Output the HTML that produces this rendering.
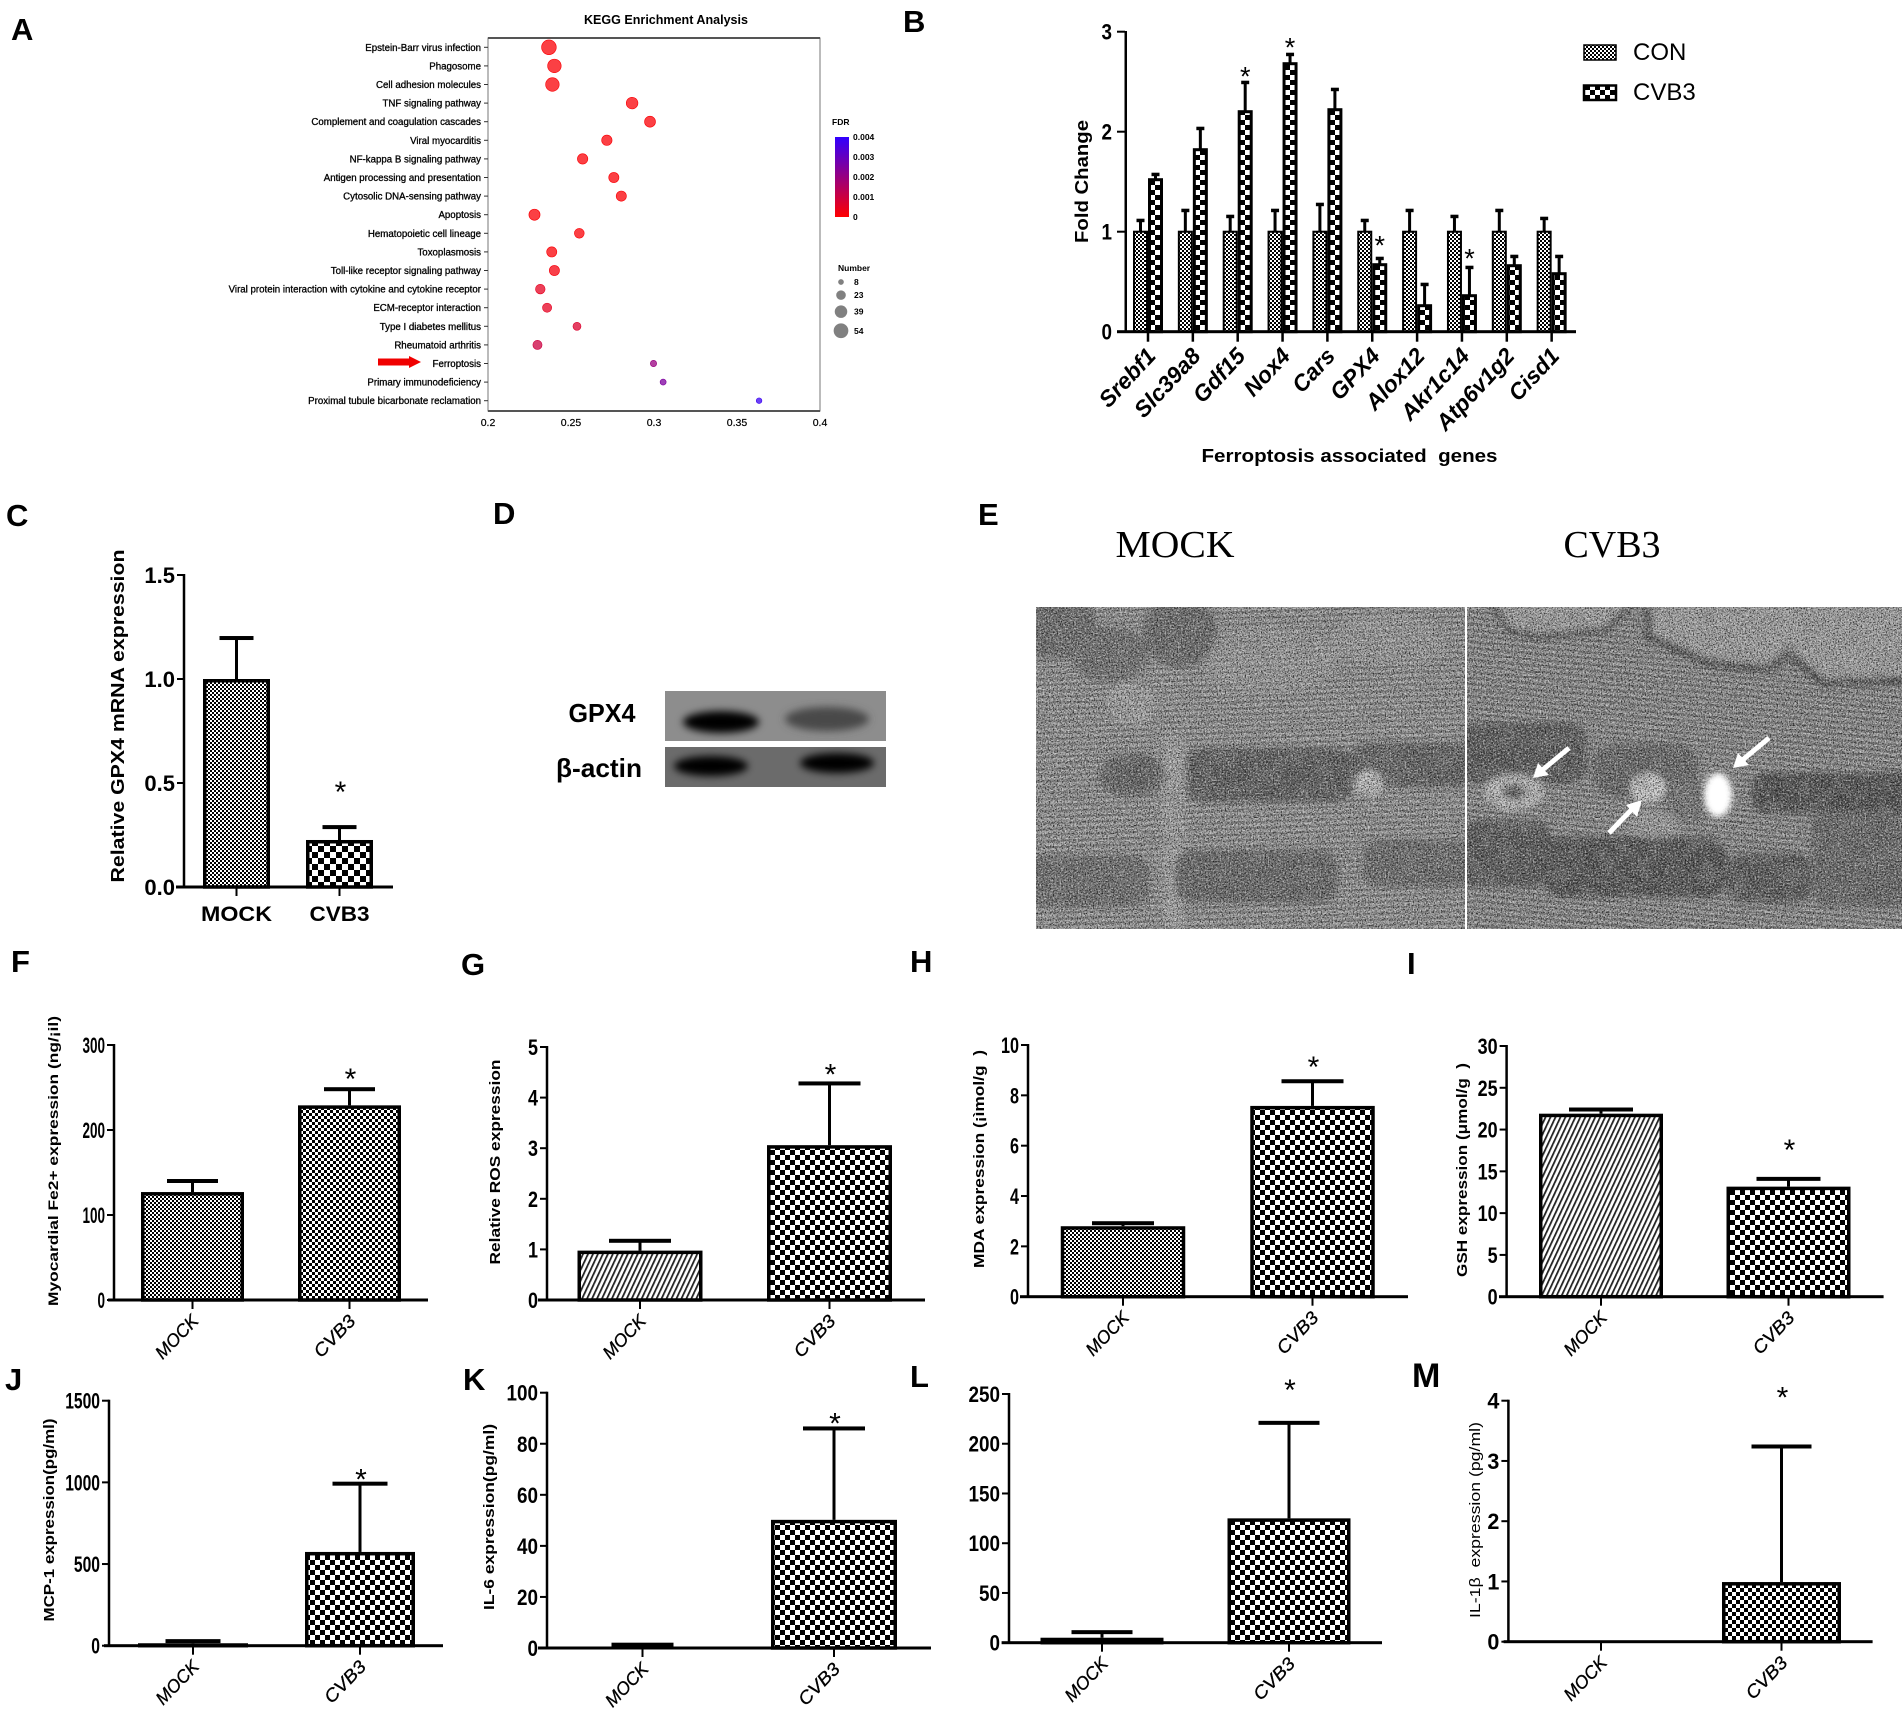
<!DOCTYPE html>
<html lang="en">
<head>
<meta charset="utf-8">
<title>Ferroptosis figure panels A to M</title>
<style>
html,body{margin:0;padding:0;background:#fff;}
svg{display:block;}
text{font-family:"Liberation Sans","DejaVu Sans",sans-serif;fill:#000;white-space:pre;}
.letter{font-size:31px;font-weight:700;}
</style>
</head>
<body>
<svg id="figure" xmlns="http://www.w3.org/2000/svg" width="1902" height="1720" viewBox="0 0 1902 1720">
<defs>
<pattern id="chk2" width="4" height="4" patternUnits="userSpaceOnUse"><rect width="4" height="4" fill="#fff"/><rect width="2" height="2"/><rect x="2" y="2" width="2" height="2"/></pattern>
<pattern id="chk3" width="6" height="6" patternUnits="userSpaceOnUse"><rect width="6" height="6" fill="#fff"/><rect width="3" height="3"/><rect x="3" y="3" width="3" height="3"/></pattern>
<pattern id="chk4" width="8" height="8" patternUnits="userSpaceOnUse"><rect width="8" height="8" fill="#fff"/><rect width="4" height="4"/><rect x="4" y="4" width="4" height="4"/></pattern>
<pattern id="chk5" width="10" height="10" patternUnits="userSpaceOnUse"><rect width="10" height="10" fill="#fff"/><rect width="5" height="5"/><rect x="5" y="5" width="5" height="5"/></pattern>
<pattern id="chk6" width="12" height="12" patternUnits="userSpaceOnUse"><rect width="12" height="12" fill="#fff"/><rect width="6" height="6"/><rect x="6" y="6" width="6" height="6"/></pattern>
<pattern id="hatch" width="4.5" height="7" patternUnits="userSpaceOnUse" patternTransform="rotate(25)"><rect width="4.5" height="7" fill="#fff"/><rect width="1.8" height="7" fill="#222"/><rect x="1.8" y="2" width="0.8" height="1" fill="#fff"/></pattern>
<pattern id="striation" width="40" height="6" patternUnits="userSpaceOnUse" patternTransform="rotate(-2)"><rect width="40" height="6" fill="#a3a3a3"/><rect y="0" width="40" height="2.4" fill="#7d7d7d"/></pattern>
<pattern id="striation-right" width="40" height="6" patternUnits="userSpaceOnUse" patternTransform="rotate(5)"><rect width="40" height="6" fill="#9c9c9c"/><rect y="0" width="40" height="2.6" fill="#747474"/></pattern>
<linearGradient id="fdr-gradient" x1="0" y1="1" x2="0" y2="0"><stop offset="0" stop-color="#ff0000"/><stop offset="1" stop-color="#3000ff"/></linearGradient>
<filter id="soft" x="-20%" y="-20%" width="140%" height="140%"><feGaussianBlur stdDeviation="3"/></filter>
<filter id="band-blur" x="-30%" y="-60%" width="160%" height="220%"><feGaussianBlur stdDeviation="4"/></filter>
<filter id="speck-dark" x="0" y="0" width="100%" height="100%"><feTurbulence type="fractalNoise" baseFrequency="0.75" numOctaves="2" seed="4"/><feColorMatrix type="matrix" values="0 0 0 0 0  0 0 0 0 0  0 0 0 0 0  3.4 0 0 0 -1.55"/></filter>
<filter id="speck-light" x="0" y="0" width="100%" height="100%"><feTurbulence type="fractalNoise" baseFrequency="0.6" numOctaves="2" seed="11"/><feColorMatrix type="matrix" values="0 0 0 0 1  0 0 0 0 1  0 0 0 0 1  3.2 0 0 0 -1.5"/></filter>
<filter id="mottle" x="0" y="0" width="100%" height="100%"><feTurbulence type="fractalNoise" baseFrequency="0.06" numOctaves="3" seed="7"/><feColorMatrix type="matrix" values="0 0 0 0 0.25  0 0 0 0 0.25  0 0 0 0 0.25  2.6 0 0 0 -1.0"/></filter>
</defs>

<g id="panel-a"></g>
<g id="panel-b"></g>
<g id="panel-bars"></g>

<g>
<text class="letter" x="11" y="40">A</text>
<text class="letter" x="903" y="32">B</text>
<text class="letter" x="6" y="526">C</text>
<text class="letter" x="493" y="524">D</text>
<text class="letter" x="978" y="525">E</text>
<text class="letter" x="11" y="972">F</text>
<text class="letter" x="461" y="975">G</text>
<text class="letter" x="910" y="972">H</text>
<text class="letter" x="1407" y="974">I</text>
<text class="letter" x="5" y="1390">J</text>
<text class="letter" x="463" y="1390">K</text>
<text class="letter" x="910" y="1387">L</text>
<text class="letter" x="1412" y="1387" style="font-size:34px">M</text>
</g>

<g>
<text x="602" y="722" text-anchor="middle" font-size="26" font-weight="700" textLength="67" lengthAdjust="spacingAndGlyphs">GPX4</text>
<text x="599" y="777" text-anchor="middle" font-size="26" font-weight="700" textLength="86" lengthAdjust="spacingAndGlyphs">β-actin</text>
<svg x="665" y="691" width="221" height="50">
<rect width="221" height="50" fill="#8d8d8d"/>
<ellipse cx="56" cy="31" rx="38" ry="11" fill="#050505" filter="url(#band-blur)"/>
<ellipse cx="162" cy="28" rx="42" ry="12" fill="#484848" filter="url(#band-blur)"/>
</svg>
<svg x="665" y="747" width="221" height="40">
<rect width="221" height="40" fill="#6b6b6b"/>
<ellipse cx="46" cy="19" rx="37" ry="10" fill="#000" filter="url(#band-blur)"/>
<ellipse cx="172" cy="16" rx="37" ry="10" fill="#000" filter="url(#band-blur)"/>
</svg>
</g>

<g>
<text x="1175" y="557" text-anchor="middle" font-size="38" textLength="119" lengthAdjust="spacingAndGlyphs" style="font-family:'Liberation Serif',serif">MOCK</text>
<text x="1612" y="557" text-anchor="middle" font-size="38" textLength="97" lengthAdjust="spacingAndGlyphs" style="font-family:'Liberation Serif',serif">CVB3</text>

<svg x="1036" y="607" width="429" height="322" viewBox="1036 607 429 322">
<rect x="1036" y="607" width="429" height="322" fill="url(#striation)"/>
<g filter="url(#soft)" fill="#6d6d6d">
<ellipse cx="1132" cy="703" rx="26" ry="22" fill="#b4b4b4" opacity=".6"/>
<rect x="1162" y="735" width="22" height="194" fill="#b3b3b3" opacity=".6"/>
<ellipse cx="1390" cy="640" rx="60" ry="26" fill="#a9a9a9" opacity=".5"/>
<ellipse cx="1270" cy="660" rx="70" ry="34" fill="#aaa" opacity=".5"/>
<rect x="1026" y="600" width="70" height="58" rx="22"/>
<ellipse cx="1110" cy="655" rx="38" ry="28" fill="#727272"/>
<ellipse cx="1180" cy="632" rx="37" ry="36"/>
<ellipse cx="1132" cy="775" rx="33" ry="22" fill="#666"/>
<rect x="1187" y="748" width="164" height="54" rx="14" fill="#5e5e5e"/>
<rect x="1351" y="743" width="125" height="44" rx="14" fill="#646464"/>
<ellipse cx="1369" cy="783" rx="14" ry="13" fill="#c4c4c4"/>
<rect x="1026" y="855" width="124" height="52" rx="18" fill="#707070"/>
<rect x="1175" y="850" width="163" height="53" rx="18" fill="#6a6a6a"/>
<rect x="1363" y="840" width="112" height="47" rx="16" fill="#6e6e6e"/>
</g>
<rect x="1036" y="607" width="429" height="322" filter="url(#mottle)" opacity=".45"/>
<rect x="1036" y="607" width="429" height="322" filter="url(#speck-dark)" opacity=".75"/>
<rect x="1036" y="607" width="429" height="322" filter="url(#speck-light)" opacity=".55"/>
</svg>

<svg x="1467" y="607" width="435" height="322" viewBox="1467 607 435 322">
<rect x="1467" y="607" width="435" height="322" fill="url(#striation-right)"/>
<g filter="url(#soft)">
<polygon points="1648,600 1648,637 1709,663 1769,670 1788,653 1824,683 1910,680 1910,600" fill="#a6a6a6" stroke="#505050" stroke-width="8"/>
<polygon points="1490,600 1508,630 1539,637 1606,630 1636,600" fill="#a5a5a5" stroke="#505050" stroke-width="6"/>
<rect x="1460" y="723" width="127" height="60" rx="18" fill="#5a5a5a"/>
<rect x="1593" y="743" width="104" height="54" rx="22" fill="#686868"/>
<rect x="1751" y="773" width="160" height="40" rx="14" fill="#505050"/>
<rect x="1460" y="820" width="91" height="67" rx="18" fill="#5a5a5a"/>
<rect x="1542" y="837" width="185" height="60" rx="22" fill="#525252"/>
<rect x="1727" y="853" width="85" height="50" rx="18" fill="#5a5a5a"/>
<rect x="1812" y="810" width="100" height="97" rx="18" fill="#6a6a6a"/>
<rect x="1666" y="780" width="37" height="43" rx="12" fill="#757575"/>
<ellipse cx="1514" cy="792" rx="30" ry="18" fill="#c4c4c4"/>
<ellipse cx="1514" cy="792" rx="12" ry="8" fill="#666"/>
<ellipse cx="1648" cy="788" rx="18" ry="15" fill="#cfcfcf"/>
<ellipse cx="1655" cy="825" rx="26" ry="14" fill="#aaa" opacity=".7"/>
</g>
<rect x="1467" y="607" width="435" height="322" filter="url(#mottle)" opacity=".45"/>
<rect x="1467" y="607" width="435" height="322" filter="url(#speck-dark)" opacity=".75"/>
<rect x="1467" y="607" width="435" height="322" filter="url(#speck-light)" opacity=".55"/>
<ellipse cx="1718" cy="795" rx="14" ry="22" fill="#fff" filter="url(#soft)"/>
<g stroke="#fff" stroke-width="5" fill="#fff">
<line x1="1569" y1="748" x2="1540" y2="772"/>
<polygon points="1533,778 1538,763 1549,775" stroke="none"/>
<line x1="1609" y1="833" x2="1635" y2="806"/>
<polygon points="1642,800 1626,805 1637,817" stroke="none"/>
<line x1="1769" y1="738" x2="1740" y2="762"/>
<polygon points="1733,768 1738,753 1749,765" stroke="none"/>
</g>
</svg>
</g>

<script>
// ---------- Panel A data ----------
const keggPathways = ["Epstein-Barr virus infection","Phagosome","Cell adhesion molecules","TNF signaling pathway","Complement and coagulation cascades","Viral myocarditis","NF-kappa B signaling pathway","Antigen processing and presentation","Cytosolic DNA-sensing pathway","Apoptosis","Hematopoietic cell lineage","Toxoplasmosis","Toll-like receptor signaling pathway","Viral protein interaction with cytokine and cytokine receptor","ECM-receptor interaction","Type I diabetes mellitus","Rheumatoid arthritis","Ferroptosis","Primary immunodeficiency","Proximal tubule bicarbonate reclamation"];
const keggRichFactor = [0.2367,0.24,0.2388,0.2868,0.2976,0.2716,0.257,0.2758,0.2803,0.228,0.255,0.2384,0.24,0.2315,0.2356,0.2536,0.2298,0.2997,0.3055,0.3633];
const keggGeneNumber = [54,46,46,34,30,27,27,26,26,31,24,26,26,23,21,16,21,10,9,8];
const keggFdr = [0.0001,0.0001,0.0001,0.0001,0.0001,0.0001,0.0001,0.0001,0.0001,0.0001,0.0001,0.0001,0.0002,0.0005,0.0005,0.0007,0.001,0.002,0.0025,0.0038];
const keggXTicks = ["0.2","0.25","0.3","0.35","0.4"];
const fdrLegendTicks = ["0","0.001","0.002","0.003","0.004"];
const numberLegendValues = [8,23,39,54];

// ---------- Panel B data ----------
const geneNames = ["Srebf1","Slc39a8","Gdf15","Nox4","Cars","GPX4","Alox12","Akr1c14","Atp6v1g2","Cisd1"];
const conMeans = [1,1,1,1,1,1,1,1,1,1];
const conErrorTops = [1.12,1.22,1.16,1.22,1.28,1.12,1.22,1.16,1.22,1.14];
const cvb3Means = [1.52,1.82,2.2,2.68,2.22,0.67,0.26,0.36,0.66,0.58];
const cvb3ErrorTops = [1.58,2.04,2.5,2.78,2.43,0.74,0.48,0.65,0.76,0.76];
const geneStarLift = [null,null,0.12,0.13,null,0.19,null,0.15,null,null];
const geneYTicks = ["0","1","2","3"];

// ---------- Bar panel data ----------
const groupNames = ["MOCK","CVB3"];

const cMeans = [1,0.226];
const cErrorTops = [1.197,0.288];
const cYTicks = ["0.0","0.5","1.0","1.5"];

const fMeans = [127,229];
const fErrorTops = [140,248];
const fYTicks = ["0","100","200","300"];

const gMeans = [0.976,3.06];
const gErrorTops = [1.17,4.28];
const gYTicks = ["0","1","2","3","4","5"];

const hMeans = [2.8,7.58];
const hErrorTops = [2.92,8.56];
const hYTicks = ["0","2","4","6","8","10"];

const iMeans = [21.9,13.17];
const iErrorTops = [22.4,14.1];
const iYTicks = ["0","5","10","15","20","25","30"];

const jMeans = [15,574];
const jErrorTops = [28,992];
const jYTicks = ["0","500","1000","1500"];

const kMeans = [0.5,50.2];
const kErrorTops = [1.3,86];
const kYTicks = ["0","20","40","60","80","100"];

const lMeans = [5,125];
const lErrorTops = [10.6,221];
const lYTicks = ["0","50","100","150","200","250"];

const mMeans = [0,0.99];
const mErrorTops = [0,3.24];
const mYTicks = ["0","1","2","3","4"];

// ---------- Helpers ----------
const SVGNS = "http://www.w3.org/2000/svg";
function node(tag, parent) {
  const e = document.createElementNS(SVGNS, tag);
  parent.appendChild(e);
  return e;
}
function attrs(e, props) {
  for (const k in props) e.setAttribute(k, props[k]);
  return e;
}
function box(parent, x, y, w, h, fill) {
  return attrs(node("rect", parent), {x: x, y: y, width: w, height: h, fill: fill || "#000"});
}
function write(parent, str, x, y, size, style) {
  const t = node("text", parent);
  t.textContent = str;
  const s = style || {};
  t.setAttribute("font-size", size);
  if (s.weight) t.setAttribute("font-weight", s.weight);
  if (s.italic) t.setAttribute("font-style", "italic");
  t.setAttribute("text-anchor", s.anchor || "start");
  if (s.length) {
    t.setAttribute("textLength", s.length);
    t.setAttribute("lengthAdjust", "spacingAndGlyphs");
  }
  if (s.rotate !== undefined) {
    t.setAttribute("transform", "translate(" + x + " " + y + ") rotate(" + s.rotate + ")");
  } else {
    t.setAttribute("x", x);
    t.setAttribute("y", y);
  }
  return t;
}
function linear(d0, d1, r0, r1) {
  return function (v) { return r0 + (v - d0) / (d1 - d0) * (r1 - r0); };
}
function fdrColor(v) {
  const t = v / 0.004;
  return "rgb(" + Math.round(255 - 207 * t) + ",0," + Math.round(255 * t) + ")";
}

// ---------- Panel A ----------
(function drawKegg() {
  const root = document.getElementById("panel-a");
  const xScale = linear(0.2, 0.4, 488, 820);
  const yRow = function (i) { return 47.3 + i * (400.7 - 47.3) / (keggPathways.length - 1); };
  const radius = function (n) { return Math.sqrt(n) * 1.0; };

  const title = write(root, "KEGG Enrichment Analysis", 666, 24, 12.5, {weight: 700, anchor: "middle", length: 164});
  
  

  const frame = box(root, 488, 38, 332, 373, "none");
  frame.setAttribute("stroke", "#777");
  frame.setAttribute("stroke-width", "1");
  
  

  const topEdge = box(root, 488, 37, 332, 2, "#555");
  
  
  const bottomEdge = box(root, 488, 410, 332, 2, "#555");
  
  

  keggPathways.forEach(function (name, i) {
    const y = yRow(i);
    const lab = write(root, name, 481, y + 3.5, 9.7, {anchor: "end", weight: 400});
    lab.setAttribute("stroke", "#000");
    lab.setAttribute("stroke-width", "0.3");
    
    

    const tick = box(root, 484, y - 0.5, 4, 1, "#333");
    
    

    const dot = node("circle", root);
    dot.setAttribute("cx", xScale(keggRichFactor[i]));
    dot.setAttribute("cy", y);
    dot.setAttribute("r", radius(keggGeneNumber[i]));
    dot.setAttribute("fill", fdrColor(keggFdr[i]));
    dot.setAttribute("fill-opacity", "0.75");
    dot.setAttribute("stroke", fdrColor(keggFdr[i]));
    dot.setAttribute("stroke-width", "0.6");
    
    
  });

  keggXTicks.forEach(function (label) {
    const x = xScale(parseFloat(label));
    const lab = write(root, label, x, 426, 10.5, {anchor: "middle"});
    lab.setAttribute("stroke", "#000");
    lab.setAttribute("stroke-width", "0.2");
    
    
  });

  const arrow = node("polygon", root);
  arrow.setAttribute("points", "378,358.5 409,358.5 409,356 421,362 409,368 409,365.5 378,365.5");
  arrow.setAttribute("fill", "#f00000");
  
  

  const fdrTitle = write(root, "FDR", 832, 125, 8.5, {weight: 700, anchor: "start"});
  
  

  const bar = box(root, 835, 137, 14, 80, "url(#fdr-gradient)");
  
  

  const fdrY = linear(0, 0.004, 217, 137);
  fdrLegendTicks.forEach(function (label) {
    const t = write(root, label, 853, fdrY(parseFloat(label)) + 3, 8.5, {weight: 700});
    
    
  });

  const numTitle = write(root, "Number", 838, 271, 8.5, {weight: 700});
  
  

  let legendY = 282;
  numberLegendValues.forEach(function (n, i) {
    const r = radius(n);
    if (i > 0) legendY += radius(numberLegendValues[i - 1]) + r + 5.5;
    const c = node("circle", root);
    c.setAttribute("cx", 841);
    c.setAttribute("cy", legendY);
    c.setAttribute("r", r);
    c.setAttribute("fill", "#808080");
    
    
    const t = write(root, String(n), 854, legendY + 3, 8.5, {weight: 700});
    
    
  });
})();

// ---------- Panel B ----------
(function drawGenes() {
  const root = document.getElementById("panel-b");
  const yScale = linear(0, 3, 331.7, 31.7);
  const center = function (i) { return 1148 + i * 44.85; };
  const barW = 15;

  geneNames.forEach(function (gene, i) {
    const c = center(i);
    [[conMeans, conErrorTops, "url(#chk2)", -barW, 2], [cvb3Means, cvb3ErrorTops, "url(#chk5)", 0, 3]].forEach(function (s) {
      const xLeft = c + s[3];
      const top = yScale(s[0][i]);
      const errTop = yScale(s[1][i]);
      const stem = box(root, xLeft + barW / 2 - 1.5, errTop, 3, top - errTop);
      
      
      const cap = box(root, xLeft + barW / 2 - 4, errTop - 1, 8, 3.5);
      
      
      const rect = box(root, xLeft + s[4] / 2, top, barW - s[4], yScale(0) - top, s[2]);
      rect.setAttribute("stroke", "#000");
      rect.setAttribute("stroke-width", s[4]);
      
      
    });

    const tick = box(root, c - 1.25, 331.7, 2.5, 10);
    
    

    const lab = write(root, gene, c + 9, 357, 22.8, {weight: 700, italic: true, anchor: "end", rotate: -47});
    
    

    if (geneStarLift[i] !== null) {
      const star = write(root, "*", c + barW / 2, yScale(cvb3ErrorTops[i] + geneStarLift[i]) + 16, 27, {anchor: "middle"});
      
      
    }
  });

  const yAxis = box(root, 1124.5, 31, 2.5, 302);
  
  
  const xAxis = box(root, 1117, 330.2, 459, 3);
  
  

  geneYTicks.forEach(function (label) {
    const y = yScale(parseFloat(label));
    const tick = box(root, 1117, y - 1, 8, 2);
    
    
    const t = write(root, label, 1112, y + 8, 22, {weight: 700, anchor: "end", length: 10.5});
    
    
  });

  const yTitle = write(root, "Fold Change", 1088, 181.5, 18, {weight: 700, anchor: "middle", rotate: -90, length: 123});
  
  

  const xTitle = write(root, "Ferroptosis associated  genes", 1349.5, 462, 18, {weight: 700, anchor: "middle", length: 296});
  
  

  const conSwatch = box(root, 1584, 45, 32, 15, "url(#chk2)");
  conSwatch.setAttribute("stroke", "#000");
  conSwatch.setAttribute("stroke-width", "1.5");
  
  
  const conText = write(root, "CON", 1633, 60, 24, {});
  
  

  const cvbSwatch = box(root, 1584, 85.5, 32, 14.5, "url(#chk5)");
  cvbSwatch.setAttribute("stroke", "#000");
  cvbSwatch.setAttribute("stroke-width", "2.5");
  
  
  const cvbText = write(root, "CVB3", 1633, 100, 24, {});
  
  
})();

// ---------- Panels C, F-M ----------
function drawBarPanel(panel, cfg) {
  const root = node("g", document.getElementById("panel-bars"));
  
  

  const yScale = linear(0, cfg.yMax, cfg.yBase, cfg.yTop);
  const center = function (i) { return cfg.firstCenter + i * cfg.step; };

  groupNames.forEach(function (group, i) {
    const c = center(i);
    const top = yScale(cfg.means[i]);
    const errTop = yScale(cfg.errorTops[i]);

    if (cfg.errorTops[i] > cfg.means[i]) {
      const stem = box(root, c - 1.5, errTop, 3, top - errTop);
      
      
      const cap = box(root, c - cfg.capW / 2, errTop - 2, cfg.capW, 4);
      
      
    }

    const rect = box(root, c - cfg.barW / 2 + 1.75, top + 1.75, cfg.barW - 3.5, Math.max(cfg.yBase - top - 1.75, 0), cfg.fills[i]);
    rect.setAttribute("stroke", "#000");
    rect.setAttribute("stroke-width", "3.5");
    
    

    const tick = box(root, c - 1, cfg.yBase, 2, 9);
    
    

    let lab;
    if (cfg.flatLabels) {
      lab = write(root, group, c, cfg.yBase + 34, 21, {weight: 700, anchor: "middle", length: group === "MOCK" ? 71 : 60});
    } else {
      lab = write(root, group, c + 7, cfg.yBase + 22, 18, {italic: true, anchor: "end", rotate: -46, length: group === "MOCK" ? 53 : 51});
      lab.setAttribute("stroke", "#000");
      lab.setAttribute("stroke-width", "0.3");
    }
    
    
  });

  const star = write(root, "*", cfg.firstCenter + cfg.step * cfg.starIndex + 1, yScale(cfg.errorTops[cfg.starIndex]) - cfg.starGap + 17, 30, {anchor: "middle"});
  
  

  const yAxis = box(root, cfg.axisX - 1.25, cfg.yTop - 1, 2.5, cfg.yBase - cfg.yTop + 2);
  
  
  const xAxis = box(root, cfg.xStart, cfg.yBase - 1.5, cfg.xEnd - cfg.xStart, 3);
  
  

  cfg.yTicks.forEach(function (label) {
    const y = yScale(parseFloat(label));
    const tick = box(root, cfg.axisX - 7, y - 1, 7, 2);
    
    
    const style = {weight: 700, anchor: "end"};
    if (cfg.charW) style.length = label.length * cfg.charW;
    const t = write(root, label, cfg.axisX - 9, y + 8, 22, style);
    
    
  });

  if (cfg.yTitle) {
    const title = write(root, cfg.yTitle, cfg.titleX, cfg.titleMid, cfg.titleSize, {weight: cfg.titleWeight || 700, anchor: "middle", rotate: -90, length: cfg.titleLen});
    
    
  }
}

drawBarPanel("c", {means: cMeans, errorTops: cErrorTops, yTicks: cYTicks, yMax: 1.5, yTop: 575, yBase: 887, axisX: 184, xStart: 176, xEnd: 393, firstCenter: 236.5, step: 103, barW: 67, capW: 34, fills: ["url(#chk2)", "url(#chk6)"], starIndex: 1, starGap: 42, flatLabels: true, yTitle: "Relative GPX4 mRNA expression", titleX: 124, titleMid: 716, titleSize: 18, titleLen: 333});
drawBarPanel("f", {means: fMeans, errorTops: fErrorTops, yTicks: fYTicks, yMax: 300, yTop: 1045, yBase: 1300, axisX: 114, xStart: 108, xEnd: 428, firstCenter: 192.5, step: 157, barW: 103, capW: 51, fills: ["url(#chk2)", "url(#chk3)"], starIndex: 1, starGap: 17, charW: 7.5, yTitle: "Myocardial Fe2+ expression (ng/¡il)", titleX: 58, titleMid: 1161, titleSize: 14, titleLen: 290});
drawBarPanel("g", {means: gMeans, errorTops: gErrorTops, yTicks: gYTicks, yMax: 5, yTop: 1047, yBase: 1300, axisX: 547, xStart: 538, xEnd: 925, firstCenter: 640, step: 189.5, barW: 125, capW: 62, fills: ["url(#hatch)", "url(#chk5)"], starIndex: 1, starGap: 16, charW: 10, yTitle: "Relative ROS expression", titleX: 500, titleMid: 1162, titleSize: 15, titleLen: 205});
drawBarPanel("h", {means: hMeans, errorTops: hErrorTops, yTicks: hYTicks, yMax: 10, yTop: 1045, yBase: 1296.7, axisX: 1028, xStart: 1020, xEnd: 1408, firstCenter: 1123, step: 189.5, barW: 124.5, capW: 62, fills: ["url(#chk2)", "url(#chk5)"], starIndex: 1, starGap: 21, charW: 9, yTitle: "MDA expression (¡ìmol/g  )", titleX: 984, titleMid: 1159, titleSize: 15, titleLen: 218});
drawBarPanel("i", {means: iMeans, errorTops: iErrorTops, yTicks: iYTicks, yMax: 30, yTop: 1046, yBase: 1296.7, axisX: 1506.6, xStart: 1499, xEnd: 1883.6, firstCenter: 1601, step: 187.5, barW: 124, capW: 64, fills: ["url(#hatch)", "url(#chk5)"], starIndex: 1, starGap: 36, charW: 10, yTitle: "GSH expression (μmol/g  )", titleX: 1467, titleMid: 1170, titleSize: 15, titleLen: 214});
drawBarPanel("j", {means: jMeans, errorTops: jErrorTops, yTicks: jYTicks, yMax: 1500, yTop: 1400.7, yBase: 1645.7, axisX: 109, xStart: 104, xEnd: 443, firstCenter: 193, step: 167, barW: 110, capW: 55, fills: ["url(#chk2)", "url(#chk5)"], starIndex: 1, starGap: 11, charW: 8.7, yTitle: "MCP-1 expression(pg/ml)", titleX: 54, titleMid: 1520, titleSize: 15, titleLen: 203});
drawBarPanel("k", {means: kMeans, errorTops: kErrorTops, yTicks: kYTicks, yMax: 100, yTop: 1392.7, yBase: 1648, axisX: 547, xStart: 538, xEnd: 931, firstCenter: 642.5, step: 191.5, barW: 126, capW: 62, fills: ["url(#chk2)", "url(#chk5)"], starIndex: 1, starGap: 12, charW: 10.5, yTitle: "IL-6 expression(pg/ml)", titleX: 494, titleMid: 1517, titleSize: 15, titleLen: 186});
drawBarPanel("l", {means: lMeans, errorTops: lErrorTops, yTicks: lYTicks, yMax: 250, yTop: 1394, yBase: 1642.7, axisX: 1009, xStart: 1001.6, xEnd: 1382, firstCenter: 1102, step: 187, barW: 123, capW: 61, fills: ["url(#chk2)", "url(#chk5)"], starIndex: 1, starGap: 40, charW: 10.5});
drawBarPanel("m", {means: mMeans, errorTops: mErrorTops, yTicks: mYTicks, yMax: 4, yTop: 1400.7, yBase: 1641.7, axisX: 1508.4, xStart: 1503.6, xEnd: 1872.6, firstCenter: 1601, step: 180.5, barW: 119, capW: 60, fills: ["url(#chk3)", "url(#chk4)"], starIndex: 1, starGap: 56, charW: 12, yTitle: "IL-1β  expression (pg/ml)", titleX: 1480, titleMid: 1520, titleSize: 15, titleWeight: 400, titleLen: 196});
</script>
</svg>
</body>
</html>
